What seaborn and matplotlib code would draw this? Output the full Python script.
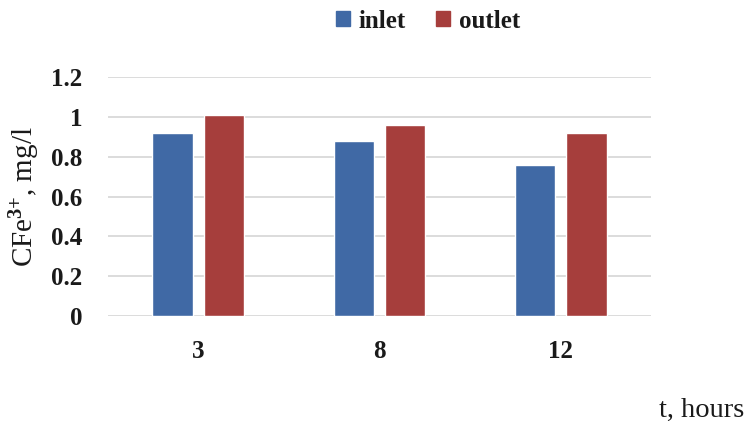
import matplotlib
matplotlib.use("Agg")
import matplotlib.pyplot as plt
import seaborn as sns
import pandas as pd

hours = ["3", "8", "12"]
inlet = [0.92, 0.88, 0.76]
outlet = [1.01, 0.96, 0.92]
series = ["inlet", "outlet"]
colors = ["#4069A5", "#A63E3C"]

df = pd.DataFrame({
    "t": hours * 2,
    "value": inlet + outlet,
    "series": [series[0]] * 3 + [series[1]] * 3,
})

sns.set_theme(style="white")
plt.rcParams["font.family"] = ["Liberation Serif", "DejaVu Serif"]
plt.rcParams["font.weight"] = "bold"
plt.rcParams["axes.labelweight"] = "normal"
plt.rcParams["mathtext.fontset"] = "custom"
plt.rcParams["mathtext.rm"] = "Liberation Serif"
plt.rcParams["mathtext.default"] = "rm"
plt.rcParams["text.color"] = "#1a1a1a"

FS = 18
LABEL_FS = 21

fig = plt.figure(figsize=(7.53, 4.21), dpi=100)
ax = fig.add_axes([0.143, 0.249, 0.722, 0.568])
sns.barplot(data=df, x="t", y="value", hue="series", order=hours,
            palette=colors, width=0.57, gap=0.22, ax=ax, legend=False,
            saturation=1)

ax.set_ylim(0, 1.2)
ax.set_yticks([0, 0.2, 0.4, 0.6, 0.8, 1.0, 1.2])
ax.set_yticklabels(["0", "0.2", "0.4", "0.6", "0.8", "1", "1.2"])
ax.yaxis.grid(True, color="#D9D9D9", linewidth=1.3)
ax.set_axisbelow(True)
for s in ax.spines.values():
    s.set_visible(False)
ax.tick_params(axis="y", length=0, pad=18, labelsize=FS, labelcolor="#1a1a1a")
ax.tick_params(axis="x", length=0, pad=17, labelsize=FS, labelcolor="#1a1a1a")

ax.set_ylabel("CFe$^{3{+}}$, mg/l", fontsize=LABEL_FS, color="#1a1a1a",
              fontweight="normal")
ax.yaxis.set_label_coords(-0.12, 0.5)
ax.set_xlabel("t, hours", fontsize=20.5, color="#1a1a1a",
              fontweight="normal")
ax.xaxis.set_label_coords(1.092, -0.34)

handles = [plt.Rectangle((0, 0), 1, 1, color=c) for c in colors]
fig.legend(handles, series, loc="center", bbox_to_anchor=(428 / 753, 1 - 21 / 421),
           ncol=2, frameon=False, fontsize=FS, handlelength=0.55,
           handleheight=0.55, handletextpad=0.35, columnspacing=1.2)

fig.savefig("out.png", dpi=100)
